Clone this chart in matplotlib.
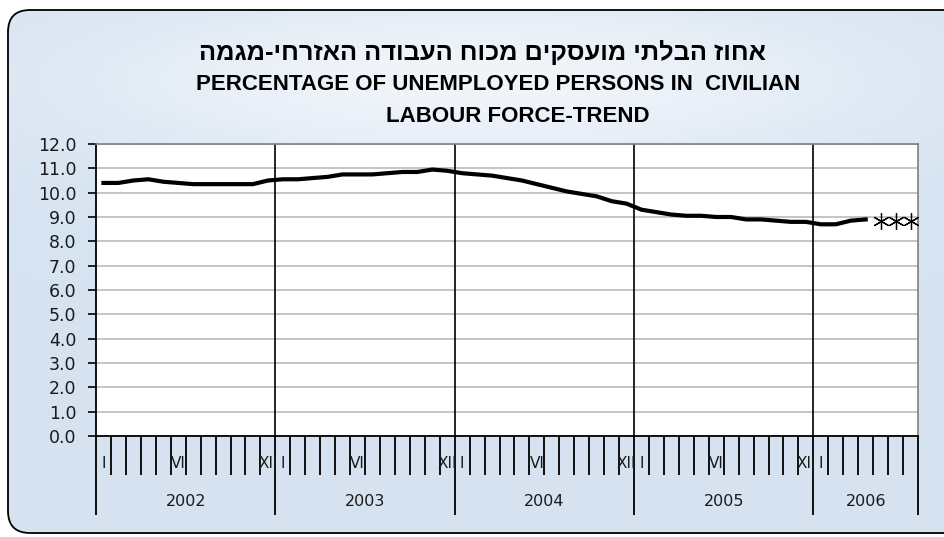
import matplotlib.pyplot as plt
import numpy as np
from matplotlib.patches import FancyBboxPatch
from matplotlib.ticker import FormatStrFormatter

YEARS = ["2002", "2003", "2004", "2005", "2006"]
MONTHS_IN_YEAR = [12, 12, 12, 12, 7]
MONTH_MARKS = [
    {0: "I", 5: "VI", 11: "XII"},
    {0: "I", 5: "VI", 11: "XII"},
    {0: "I", 5: "VI", 11: "XII"},
    {0: "I", 5: "VI", 11: "XII"},
    {0: "I"},
]

# monthly trend, % unemployed
rate_2002 = [10.4, 10.4, 10.5, 10.55, 10.45, 10.4, 10.35, 10.35, 10.35, 10.35, 10.35, 10.5]
rate_2003 = [10.55, 10.55, 10.6, 10.65, 10.75, 10.75, 10.75, 10.8, 10.85, 10.85, 10.95, 10.9]
rate_2004 = [10.8, 10.75, 10.7, 10.6, 10.5, 10.35, 10.2, 10.05, 9.95, 9.85, 9.65, 9.55]
rate_2005 = [9.3, 9.2, 9.1, 9.05, 9.05, 9.0, 9.0, 8.9, 8.9, 8.85, 8.8, 8.8]
rate_2006 = [8.7, 8.7, 8.85, 8.9]
pending_2006 = [8.85, 8.85, 8.85]  # May-Jul 2006, shown as asterisks

TITLE_HE = "אחוז הבלתי מועסקים מכוח העבודה האזרחי-מגמה"
TITLE_EN1 = "PERCENTAGE OF UNEMPLOYED PERSONS IN  CIVILIAN"
TITLE_EN2 = "LABOUR FORCE-TREND"

FONT = ["Liberation Sans", "DejaVu Sans"]
plt.rcParams["font.family"] = FONT

rate = rate_2002 + rate_2003 + rate_2004 + rate_2005 + rate_2006
n_months = sum(MONTHS_IN_YEAR)

W, H = 945, 537
fig = plt.figure(figsize=(W / 100, H / 100), dpi=100)

# background panel with rounded border
bg = fig.add_axes([0, 0, 1, 1])
bg.set_xlim(0, W)
bg.set_ylim(H, 0)
bg.axis("off")
yy, xx = np.mgrid[0:H, 0:W]
glow = np.exp(-(((xx - 480) / 420.0) ** 2 + ((yy - 80) / 90.0) ** 2))
base = np.array([0.84, 0.89, 0.945])
img = base[None, None, :] + (1 - base[None, None, :]) * 0.65 * glow[:, :, None]
im = bg.imshow(img, extent=(0, W, H, 0), aspect="auto", zorder=0)
box = FancyBboxPatch((8, 10), 980, 523, boxstyle="round,pad=0,rounding_size=22",
                     fc="none", ec="black", lw=1.3, zorder=2)
bg.add_patch(box)
im.set_clip_path(box)

# title (Hebrew reversed by hand, matplotlib has no bidi)
bg.text(482, 52, TITLE_HE[::-1], ha="center", va="center", fontsize=18.3,
        fontweight="bold", family=FONT)
bg.text(498, 84, TITLE_EN1, ha="center", va="center", fontsize=16, fontweight="bold")
bg.text(518, 116, TITLE_EN2, ha="center", va="center", fontsize=16, fontweight="bold")

# plot area
ax = fig.add_axes([96 / W, 1 - 436 / H, (918 - 96) / W, (436 - 144) / H])
ax.set_facecolor("white")
x = np.arange(len(rate)) + 0.5
ax.plot(x, rate, color="black", lw=3, zorder=3)
xp = np.arange(len(pending_2006)) + len(rate) + 0.5
ax.plot(xp, pending_2006, ls="none", marker=(6, 2, 0), ms=12, mec="black",
        mew=0.9, zorder=3)

ax.set_xlim(0, n_months)
ax.set_ylim(0, 12)
ax.set_yticks(np.arange(0, 13, 1))
ax.yaxis.set_major_formatter(FormatStrFormatter("%.1f"))
ax.yaxis.grid(True, color="#c0c0c0", lw=1.3)
ax.set_axisbelow(True)
ax.tick_params(axis="y", length=6, width=1.2, pad=8, labelcolor="#1a1a1a")
for lbl in ax.get_yticklabels():
    lbl.set_family("DejaVu Sans")
    lbl.set_fontsize(12.5)

starts = np.cumsum([0] + MONTHS_IN_YEAR)
year_edges = list(starts)
month_edges = [m for m in range(1, n_months) if m not in year_edges]
ax.set_xticks(year_edges)
ax.set_xticks(month_edges, minor=True)
ax.set_xticklabels([])
ax.tick_params(axis="x", which="major", length=57, width=1.3, color="black")
ax.tick_params(axis="x", which="minor", length=28, width=1.3, color="black")

for e in year_edges[1:-1]:
    ax.axvline(e, color="black", lw=1.2, zorder=2)

xt = ax.get_xaxis_transform()
for s, n, yr, marks in zip(starts, MONTHS_IN_YEAR, YEARS, MONTH_MARKS):
    for off, lab in marks.items():
        ax.text(s + off + 0.5, -0.093, lab, transform=xt, ha="center",
                va="center", fontsize=11, family="DejaVu Sans",
                color="#1a1a1a", clip_on=False)
    ax.text(s + n / 2, -0.226, yr, transform=xt, ha="center", va="center",
            fontsize=11.5, family="DejaVu Sans", color="#1a1a1a", clip_on=False)

for side in ("left", "bottom"):
    ax.spines[side].set_color("black")
    ax.spines[side].set_linewidth(1.3)
for side in ("top", "right"):
    ax.spines[side].set_color("#808080")
    ax.spines[side].set_linewidth(1.2)

fig.savefig("out.png", dpi=100)
